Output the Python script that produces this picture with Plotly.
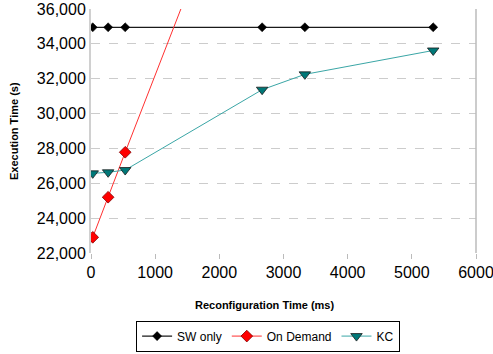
import plotly.graph_objects as go

recon_ms = [27, 267, 533, 2667, 3333, 5333]
sw_only = [34950, 34950, 34950, 34950, 34950, 34950]
od_ms = [27, 267, 533, 2667]
on_demand = [22900, 25200, 27780, 48000]
kc = [26570, 26630, 26760, 31370, 32250, 33620]

FONT = "Liberation Sans, Arial, sans-serif"

fig = go.Figure()
fig.add_trace(go.Scatter(x=recon_ms, y=sw_only, name="SW only", mode="lines+markers",
                         line=dict(color="#1a1a1a", width=1.2),
                         marker=dict(symbol="diamond", size=7, color="#000000",
                                     line=dict(color="#000000", width=0.5)),
                         cliponaxis=True))
fig.add_trace(go.Scatter(x=od_ms, y=on_demand, name="On Demand", mode="lines+markers",
                         line=dict(color="#ff3030", width=1),
                         marker=dict(symbol="diamond", size=9, color="#ff0000",
                                     line=dict(color="#800000", width=0.8)),
                         cliponaxis=True))
fig.add_trace(go.Scatter(x=recon_ms, y=kc, name="KC", mode="lines+markers",
                         line=dict(color="#3aa6a6", width=1),
                         marker=dict(symbol="triangle-down", size=10, color="#007878",
                                     line=dict(color="#1a1a1a", width=0.8)),
                         cliponaxis=True))

fig.update_layout(
    width=493, height=354,
    margin=dict(l=91, r=17, t=9, b=101, autoexpand=False),
    paper_bgcolor="white", plot_bgcolor="white",
    font=dict(family=FONT, color="#000000"),
    showlegend=True,
    legend=dict(orientation="h", x=0.46, xanchor="center", y=-0.277, yanchor="top",
                bordercolor="#000000", borderwidth=1, font=dict(size=12),
                itemwidth=30, tracegroupgap=0),
    xaxis=dict(range=[0, 6000], dtick=1000, showgrid=False, zeroline=False,
               showline=False, ticks="outside", ticklen=5, tickcolor="#bbbbbb",
               tickfont=dict(size=16), tickformat="d", ticklabeloverflow="allow",
               automargin=False),
    yaxis=dict(range=[22000, 36000], dtick=2000, showgrid=True, gridcolor="#cccccc",
               griddash="dash", gridwidth=1, zeroline=False, showline=True,
               linecolor="#d0d0d0", linewidth=2, ticks="", tickformat=",d",
               tickfont=dict(size=16), automargin=False),
    annotations=[
        dict(text="<b>Reconfiguration Time (ms)</b>", xref="paper", yref="paper",
             x=0.45, y=-0.212, xanchor="center", yanchor="middle", showarrow=False,
             font=dict(size=11)),
        dict(text="<b>Execution Time (s)</b>", xref="paper", yref="paper",
             x=-0.2, y=0.5, xanchor="center", yanchor="middle", showarrow=False,
             textangle=-90, font=dict(size=11)),
    ],
    shapes=[
        dict(type="line", xref="paper", yref="paper", x0=1, x1=1, y0=0, y1=1,
             line=dict(color="#bbbbbb", width=1.5)),
    ],
)

fig.write_html("out.html")
